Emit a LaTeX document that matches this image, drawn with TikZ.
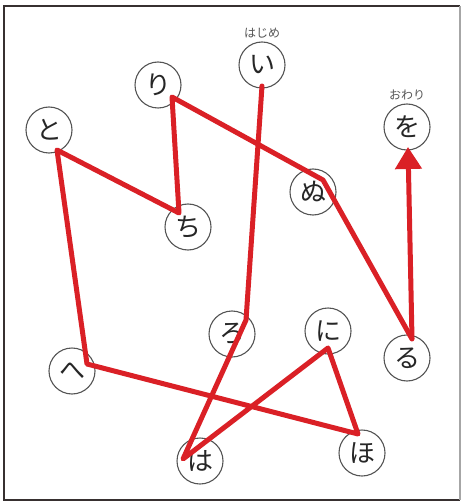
\documentclass[tikz,border=0pt]{standalone}
\usepackage{fontspec}
\newfontfamily\jpfont{Noto Sans CJK JP}
\usetikzlibrary{arrows.meta, calc, positioning}
\definecolor{routecolor}{RGB}{218, 32, 38}
\definecolor{ringcolor}{RGB}{85, 85, 85}
\definecolor{framecolor}{RGB}{55, 48, 48}

\begin{document}
\begin{tikzpicture}[
  x=1pt, y=-1pt,
  letter/.style = {
    circle,
    draw = ringcolor,
    line width = 1.1pt,
    fill = white,
    minimum size = 46pt,
    inner sep = 0pt,
    text = black!85,
    font = \jpfont\fontsize{26}{26}\selectfont
  },
  tag/.style = {
    text = ringcolor,
    font = \jpfont\fontsize{12}{12}\selectfont
  },
  route/.style = {
    draw = routecolor,
    line width = 5pt,
    line join = round,
    line cap = round
  }
]
\useasboundingbox (0,0) rectangle (462,502);

% Frame
\draw[framecolor, line width=2pt] (460,500) -- (4,500) -- (4,6) -- (460,6);
\draw[gray!70, line width=1.2pt] (460,6) -- (460,500);

% Nodes
\node[letter] (i)   at (262,65)  {い};
\node[letter] (ro)  at (232,334) {ろ};
\node[letter] (ha)  at (200,461) {は};
\node[letter] (ni)  at (328,331) {に};
\node[letter] (ho)  at (362,453) {ほ};
\node[letter] (he)  at (72,371)  {へ};
\node[letter] (to)  at (49,130)  {と};
\node[letter] (chi) at (188,227) {ち};
\node[letter] (ri)  at (158,85)  {り};
\node[letter] (nu)  at (313,192) {ぬ};
\node[letter] (ru)  at (407,358) {る};
\node[letter] (wo)  at (407,127) {を};

\node[tag, above=0pt of i]  (start) {はじめ};
\node[tag, above=0pt of wo] (goal)  {おわり};

% Route
\draw[route] ($(i)+(0,21)$) -- ($(ro)+(14,-14)$) -- ($(ha)+(-17,-2)$)
  -- ($(ni)+(0,17)$) -- ($(ho)+(-4,-19)$) -- ($(he)+(15,-7)$)
  -- ($(to)+(8,20)$) -- ($(chi)+(-9,-14)$) -- ($(ri)+(14,12)$)
  -- ($(nu)+(10,-12)$) -- ($(ru)+(5,-19)$);
\draw[route, line cap=butt, -{Triangle[length=22pt, width=26pt]}]
  ($(ru)+(5,-19)$) -- ($(wo)+(1,20)$);

\end{tikzpicture}
\end{document}
